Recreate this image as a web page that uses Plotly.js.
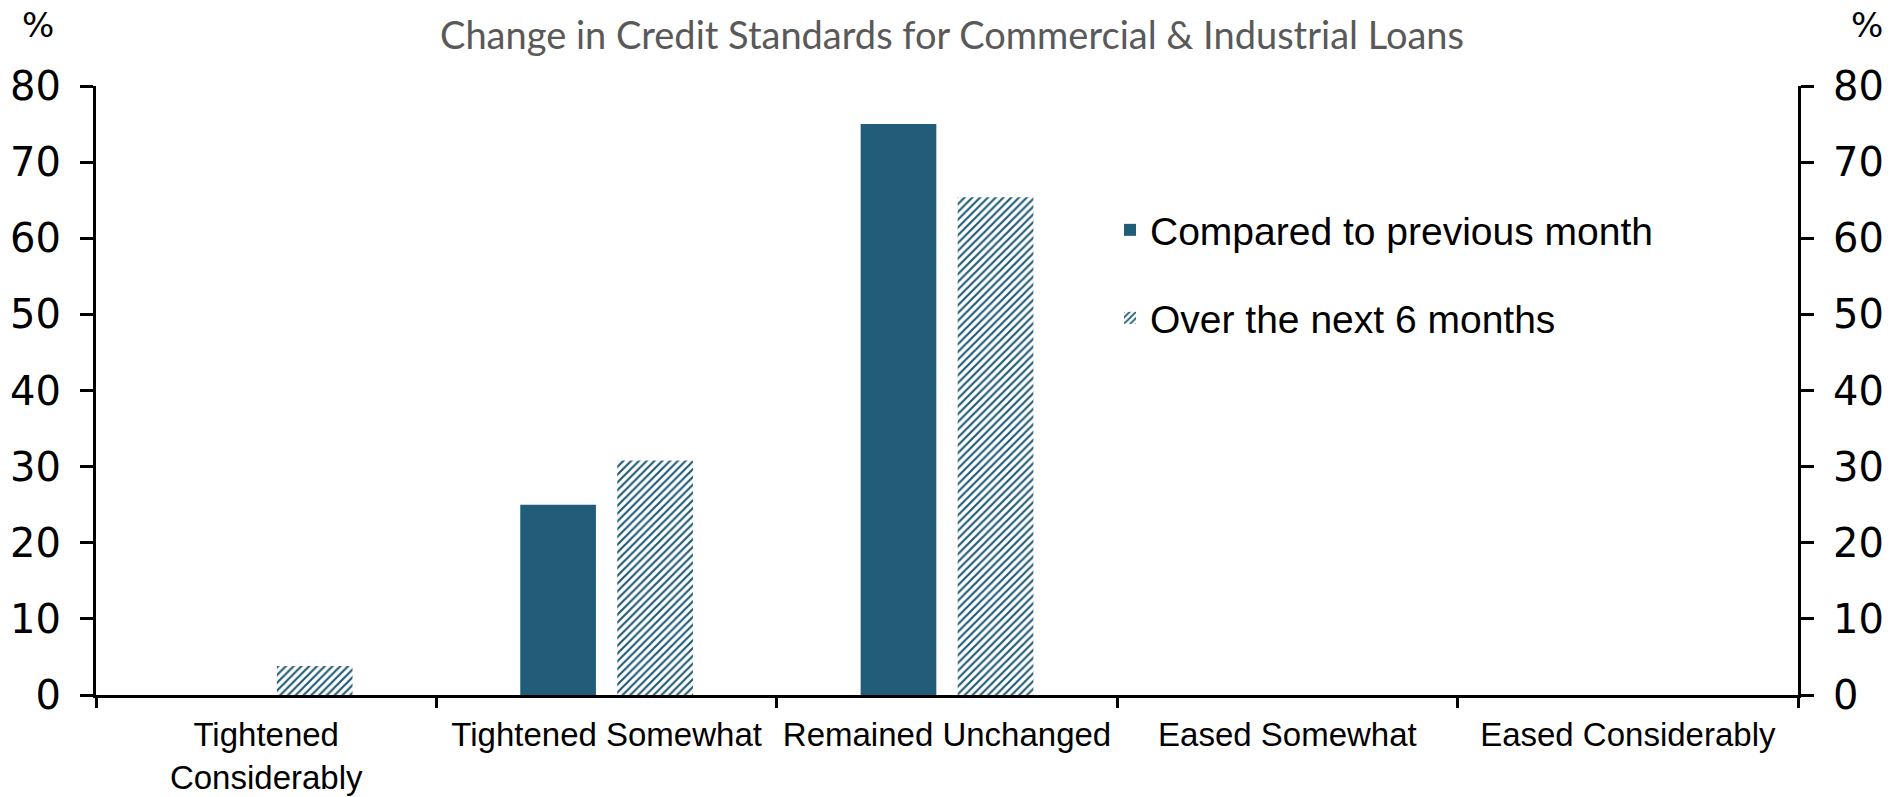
<!DOCTYPE html>
<html>
<head>
<meta charset="utf-8">
<script src="https://cdn.plot.ly/plotly-3.0.1.min.js"></script>
<style>
  html, body { margin: 0; padding: 0; background: #ffffff; }
  #chart { width: 1900px; height: 797px; }
</style>
</head>
<body>
<div id="chart"></div>
<script>
// ---- data ----
const categories = [
  "Tightened<br>Considerably",
  "Tightened Somewhat",
  "Remained Unchanged",
  "Eased Somewhat",
  "Eased Considerably"
];
const previousMonth = [0, 25, 75, 0, 0];
const next6Months = [3.8, 30.8, 65.4, 0, 0];
const seriesNames = ["Compared to previous month", "Over the next 6 months"];
const yTicks = [0, 10, 20, 30, 40, 50, 60, 70, 80];
const chartTitle = "Change in Credit Standards for Commercial & Industrial Loans";
const unitLabel = "%";

// ---- styles ----
const teal = "#215d78";
const tickFont = { family: "DejaVu Sans, Verdana, sans-serif", size: 40, color: "#000000" };
const catFont = { family: "Liberation Sans, Arial, sans-serif", size: 33, color: "#000000" };
const legendFont = { family: "Liberation Sans, Arial, sans-serif", size: 39, color: "#000000" };
const unitFont = { family: "DejaVu Sans, Verdana, sans-serif", size: 34, color: "#000000" };

const traces = [
  {
    type: "bar",
    x: categories,
    y: previousMonth,
    name: seriesNames[0],
    marker: { color: teal, line: { width: 0 } },
    legend: "legend",
    hoverinfo: "x+y+name"
  },
  {
    type: "bar",
    x: categories,
    y: next6Months,
    name: seriesNames[1],
    marker: {
      color: teal,
      line: { width: 0 },
      pattern: { shape: "/", fgcolor: teal, bgcolor: "#ffffff", size: 5.5, solidity: 0.4, fillmode: "replace" }
    },
    legend: "legend2",
    hoverinfo: "x+y+name"
  },
  {
    // empty trace so the mirrored right-hand axis is drawn
    type: "scatter",
    x: [],
    y: [],
    yaxis: "y2",
    showlegend: false,
    hoverinfo: "skip"
  }
];

const plotLeft = 96, plotRight = 1798, plotTop = 86, plotBottom = 695;
const W = 1900, H = 797;
const px2x = p => (p - plotLeft) / (plotRight - plotLeft);
const px2y = p => (plotBottom - p) / (plotBottom - plotTop);

const axisCommon = {
  range: [0, 80],
  tickvals: yTicks,
  showgrid: false,
  zeroline: false,
  showline: true,
  linecolor: "#000000",
  linewidth: 3,
  ticks: "outside",
  ticklen: 13,
  tickwidth: 3,
  tickcolor: "#000000",
  tickfont: tickFont,
  ticklabelstandoff: 11,
  fixedrange: true
};

const layout = {
  width: W,
  height: H,
  margin: { l: plotLeft, r: W - plotRight, t: plotTop, b: H - plotBottom, pad: 0 },
  paper_bgcolor: "#ffffff",
  plot_bgcolor: "#ffffff",
  barmode: "group",
  bargap: 0.43,
  bargroupgap: 0.22,
  title: {
    text: chartTitle,
    font: { family: "Lato, Carlito, Calibri, sans-serif", size: 38, color: "#595959" },
    xref: "container",
    x: 952 / W,
    xanchor: "center",
    yref: "container",
    y: 1 - 36 / H,
    yanchor: "middle"
  },
  xaxis: {
    type: "category",
    showgrid: false,
    zeroline: false,
    showline: true,
    linecolor: "#000000",
    linewidth: 3,
    ticks: "outside",
    tickson: "boundaries",
    ticklen: 10,
    tickwidth: 3,
    tickcolor: "#000000",
    tickfont: catFont,
    ticklabelstandoff: 8,
    fixedrange: true
  },
  yaxis: Object.assign({}, axisCommon),
  yaxis2: Object.assign({}, axisCommon, { overlaying: "y", side: "right" }),
  legend: {
    x: px2x(1110),
    xanchor: "left",
    y: px2y(230),
    yanchor: "middle",
    bgcolor: "rgba(0,0,0,0)",
    borderwidth: 0,
    font: legendFont
  },
  legend2: {
    x: px2x(1110),
    xanchor: "left",
    y: px2y(318),
    yanchor: "middle",
    bgcolor: "rgba(0,0,0,0)",
    borderwidth: 0,
    font: legendFont
  },
  showlegend: true,
  annotations: [
    {
      text: unitLabel, xref: "paper", yref: "paper",
      x: px2x(38), y: px2y(25), xanchor: "center", yanchor: "middle",
      showarrow: false, font: unitFont
    },
    {
      text: unitLabel, xref: "paper", yref: "paper",
      x: px2x(1867), y: px2y(25), xanchor: "center", yanchor: "middle",
      showarrow: false, font: unitFont
    }
  ]
};

Plotly.newPlot("chart", traces, layout, { displayModeBar: false, staticPlot: true });
</script>
</body>
</html>
